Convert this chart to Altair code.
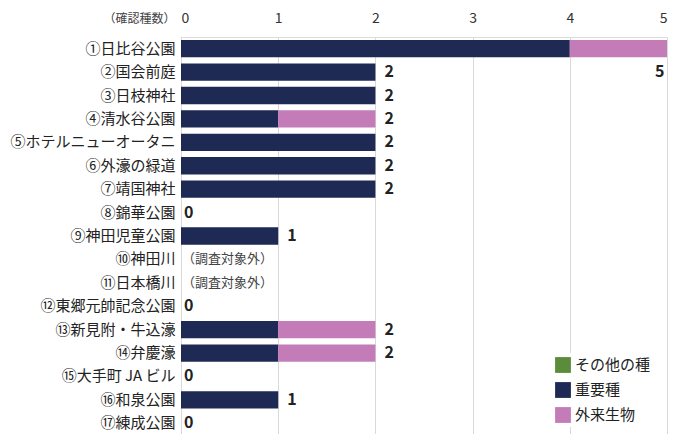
import altair as alt
import pandas as pd

sites = ["①日比谷公園", "②国会前庭", "③日枝神社", "④清水谷公園", "⑤ホテルニューオータニ",
         "⑥外濠の緑道", "⑦靖国神社", "⑧錦華公園", "⑨神田児童公園", "⑩神田川", "⑪日本橋川",
         "⑫東郷元帥記念公園", "⑬新見附・牛込濠", "⑭弁慶濠", "⑮大手町 JA ビル", "⑯和泉公園", "⑰練成公園"]
other = [0, 0, 0, 0, 0, 0, 0, 0, 0, None, None, 0, 0, 0, 0, 0, 0]
important = [4, 2, 2, 1, 2, 2, 2, 0, 1, None, None, 0, 1, 1, 0, 1, 0]
alien = [1, 0, 0, 1, 0, 0, 0, 0, 0, None, None, 0, 1, 1, 0, 0, 0]
categories = ["その他の種", "重要種", "外来生物"]
colors = ["#5b8c3a", "#1e2a54", "#c47cb9"]
na_text = "（調査対象外）"
x_ticks = [0, 1, 2, 3, 4, 5]

rows = []
for i, s in enumerate(sites):
    for c, vals in zip(categories, [other, important, alien]):
        v = vals[i]
        if v is None:
            continue
        rows.append({"site": s, "cat": c, "v": v, "ord": {"重要種": 0, "外来生物": 1, "その他の種": 2}[c]})
df = pd.DataFrame(rows)

tot = []
for i, s in enumerate(sites):
    if important[i] is None:
        tot.append({"site": s, "total": 0, "label": na_text, "na": True})
    else:
        t = important[i] + alien[i] + other[i]
        tot.append({"site": s, "total": t, "label": str(t), "na": False})
tdf = pd.DataFrame(tot)

FONT = "Noto Sans CJK JP"
yenc = alt.Y("site:N", sort=sites, title=None,
             scale=alt.Scale(paddingInner=0.26, paddingOuter=0.13),
             axis=alt.Axis(labelFontSize=15, labelColor="#222", labelPadding=6,
                           ticks=False, domain=False, labelFont=FONT))

bars = alt.Chart(df).mark_bar().encode(
    x=alt.X("sum(v):Q", title="（確認種数）",
            scale=alt.Scale(domain=[0, 5], nice=False),
            axis=alt.Axis(orient="top", values=x_ticks, format="d", grid=True,
                          gridColor="#d9d9d9", domain=False, ticks=False,
                          labelFontSize=14, labelColor="#333", labelPadding=12,
                          labelFont=FONT, titleFont=FONT, titleFontSize=12,
                          titleFontWeight="normal", titleColor="#444",
                          titleX=-6, titleY=-19, titleAlign="right",
                          titleBaseline="middle", titleAngle=0)),
    y=yenc,
    color=alt.Color("cat:N", scale=alt.Scale(domain=categories, range=colors),
                    legend=alt.Legend(title=None, orient="none", legendX=370, legendY=316,
                                      symbolType="square", symbolSize=250, symbolStrokeWidth=0,
                                      labelFontSize=15, labelFont=FONT, labelColor="#222",
                                      rowPadding=9, fillColor="white", padding=4)),
    order=alt.Order("ord:Q"),
)

base_t = alt.Chart(tdf)
ysort = alt.Y("site:N", sort=sites)
lab_normal = base_t.transform_filter("!datum.na && datum.total > 0 && datum.total < 5").mark_text(
    align="left", baseline="middle", dx=9, fontSize=16, fontWeight="bold", color="#222", font=FONT
).encode(x="total:Q", y=ysort, text="label:N")
lab_zero = base_t.transform_filter("!datum.na && datum.total == 0").mark_text(
    align="left", baseline="middle", dx=3, fontSize=16, fontWeight="bold", color="#222", font=FONT
).encode(x="total:Q", y=ysort, text="label:N")
lab_full = base_t.transform_filter("!datum.na && datum.total >= 5").mark_text(
    align="left", baseline="middle", dx=-12, dy=23, fontSize=16, fontWeight="bold", color="#222", font=FONT
).encode(x="total:Q", y=ysort, text="label:N")
lab_na = base_t.transform_filter("datum.na").mark_text(
    align="left", baseline="middle", dx=1, fontSize=13, color="#444", font=FONT
).encode(x="total:Q", y=ysort, text="label:N")

chart = alt.layer(bars, lab_normal, lab_zero, lab_full, lab_na).properties(
    width=486, height=398,
    autosize=alt.AutoSizeParams(type="none"),
    padding={"left": 173, "top": 29, "right": 11, "bottom": 0},
).configure_view(stroke=None).configure(font=FONT)

chart.save("out.html", embed_options={"renderer": "svg", "actions": False})
